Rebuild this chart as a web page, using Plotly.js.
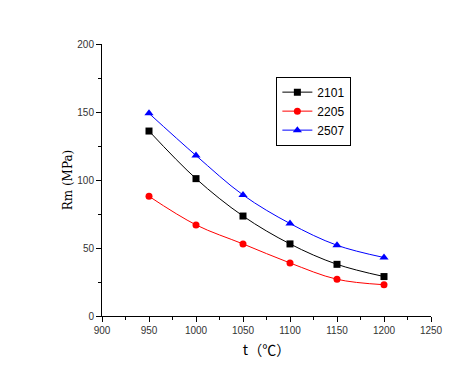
<!DOCTYPE html>
<html><head><meta charset="utf-8">
<script src="https://cdn.plot.ly/plotly-3.0.1.min.js"></script>
<style>body{margin:0;background:#fff}</style>
</head><body><div id="chart" style="width:466px;height:378px"></div>
<script>
const temps = [950, 1000, 1050, 1100, 1150, 1200];
const s2101 = [136, 101, 73.5, 53, 38, 29];
const s2205 = [88, 67, 53, 39, 27, 23];
const s2507 = [149, 118, 89, 68, 52, 43];
const names = ['2101', '2205', '2507'];

const traces = [
  {x: temps, y: s2101, name: names[0], mode: 'lines+markers', line: {color: '#000', width: 1, shape: 'spline'}, marker: {symbol: 'square', size: 7, color: '#000'}},
  {x: temps, y: s2205, name: names[1], mode: 'lines+markers', line: {color: '#ff0000', width: 1, shape: 'spline'}, marker: {symbol: 'circle', size: 7, color: '#ff0000'}},
  {x: temps, y: s2507, name: names[2], mode: 'lines+markers', line: {color: '#0000ff', width: 1, shape: 'spline'}, marker: {symbol: 'triangle-up', size: 8, color: '#0000ff'}}
];
const layout = {
  width: 466, height: 378,
  margin: {l: 102, r: 35, t: 44, b: 62},
  paper_bgcolor: '#fff', plot_bgcolor: '#fff',
  font: {family: 'Arial, Liberation Sans, sans-serif', size: 10, color: '#333'},
  showlegend: true,
  legend: {x: 0.53, y: 0.88, xanchor: 'left', yanchor: 'top', bordercolor: '#000', borderwidth: 1, bgcolor: '#fff',
    font: {size: 12, color: '#000'}, tracegroupgap: 0, itemwidth: 30},
  xaxis: {range: [900, 1250], tickvals: [900,950,1000,1050,1100,1150,1200,1250], ticks: 'outside', ticklen: 5, tickcolor: '#000',
    showline: true, linecolor: '#000', linewidth: 1, showgrid: false, zeroline: false,
    minor: {dtick: 25, tick0: 900, ticks: 'outside', ticklen: 3, tickcolor: '#000', showgrid: false},
    title: {text: 't（℃）', font: {family: 'Noto Sans CJK SC, serif', size: 14, color: '#000'}, standoff: 10}},
  yaxis: {range: [0, 200], tickvals: [0,50,100,150,200], ticks: 'outside', ticklen: 5, tickcolor: '#000',
    showline: true, linecolor: '#000', linewidth: 1, showgrid: false, zeroline: false,
    minor: {dtick: 25, tick0: 0, ticks: 'outside', ticklen: 3, tickcolor: '#000', showgrid: false},
    title: {text: 'Rm (MPa)', font: {family: 'DejaVu Serif, serif', size: 12, color: '#000'}, standoff: 2}}
};
Plotly.newPlot('chart', traces, layout, {displayModeBar: false, staticPlot: true});
</script></body></html>
